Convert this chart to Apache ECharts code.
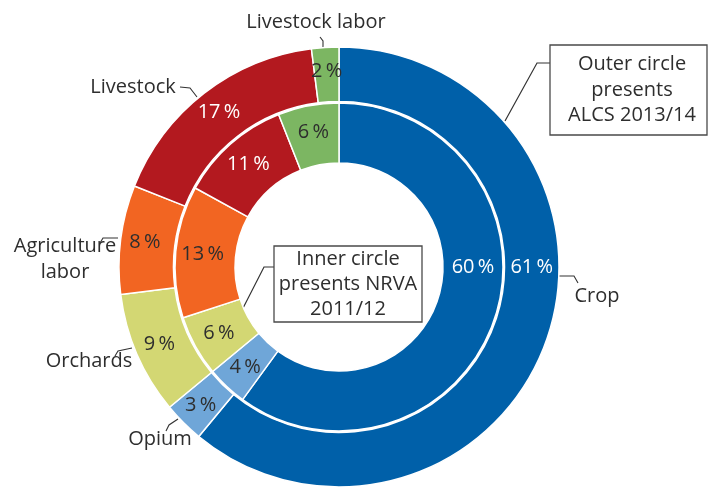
<!DOCTYPE html>
<html>
<head>
<meta charset="utf-8">
<script src="https://cdn.jsdelivr.net/npm/echarts@6/dist/echarts.min.js"></script>
<style>
  html, body { margin: 0; padding: 0; background: #fff; }
  #chart { width: 708px; height: 487px; }
</style>
</head>
<body>
<div id="chart"></div>
<script>
// categories, clockwise from 12 o'clock
var categories = ['Crop', 'Opium', 'Orchards', 'Agriculture\nlabor', 'Livestock', 'Livestock labor'];
// outer ring: ALCS 2013/14
var outerValues = [61, 3, 9, 8, 17, 2];
// inner ring: NRVA 2011/12
var innerValues = [60, 4, 6, 13, 11, 6];

// styles
var colors = ['#0060a9', '#6fa6d8', '#d3d773', '#f26522', '#b3191f', '#7cb662'];
var whiteText = [true, false, false, false, true, false];
var FONT = '"Open Sans", "Noto Sans", sans-serif';
var cx = 339, cy = 267;
var innerR = [104, 164], outerR = [165.5, 220];
// where the category names sit, and their little leader lines
var namePos = [[597, 296], [160, 439], [89, 361], [65, 259], [133, 87], [316, 22]];
var leaders = [
    [[557, 276], [574, 276], [578, 283]],
    [[178, 419], [169, 425], [166, 431]],
    [[132, 348], [118, 351], [115, 356]],
    [[118, 238], [103, 238], [100, 243]],
    [[197, 97], [190, 88], [180, 87]],
    [[323, 47], [323, 41], [320, 37]]
];

function buildData(values) {
    return values.map(function (v, i) {
        return {
            name: categories[i],
            value: v,
            itemStyle: { color: colors[i] },
            label: { color: whiteText[i] ? '#ffffff' : '#2e2e2e' }
        };
    });
}

function pctLayout(r) {
    // crop share is written at 3 o'clock, the rest at mid-slice
    return function (p) {
        if (p.dataIndex === 0) {
            return { x: cx + (r[0] + r[1]) / 2, y: cy, align: 'center', verticalAlign: 'middle' };
        }
        return {};
    };
}

var pctLabel = {
    show: true,
    position: 'inside',
    fontFamily: FONT,
    fontSize: 20,
    formatter: function (p) { return p.value + '\u2009%'; }
};

var myChart = echarts.init(document.getElementById('chart'), null, { renderer: 'canvas' });

var option = {
    animation: false,
    backgroundColor: '#ffffff',
    series: [
        {
            type: 'pie',
            center: [cx, cy],
            radius: innerR,
            startAngle: 90,
            clockwise: true,
            silent: true,
            itemStyle: { borderColor: '#ffffff', borderWidth: 1.5 },
            label: pctLabel,
            labelLine: { show: false },
            labelLayout: pctLayout(innerR),
            data: buildData(innerValues)
        },
        {
            type: 'pie',
            center: [cx, cy],
            radius: outerR,
            startAngle: 90,
            clockwise: true,
            silent: true,
            itemStyle: { borderColor: '#ffffff', borderWidth: 1.5 },
            label: pctLabel,
            labelLine: { show: false },
            labelLayout: pctLayout(outerR),
            data: buildData(outerValues)
        },
        {
            // invisible copy of the outer ring that carries the category names
            type: 'pie',
            center: [cx, cy],
            radius: outerR,
            startAngle: 90,
            clockwise: true,
            silent: true,
            z: 1,
            itemStyle: { color: 'rgba(0,0,0,0)', borderWidth: 0 },
            label: {
                show: true,
                position: 'outside',
                fontFamily: FONT,
                fontSize: 20,
                lineHeight: 26,
                width: 160,
                overflow: 'none',
                color: '#2e2e2e',
                align: 'center',
                formatter: '{b}'
            },
            labelLine: { show: true, length: 6, length2: 6, lineStyle: { color: '#333', width: 1.1 } },
            labelLayout: function (p) {
                var pos = namePos[p.dataIndex];
                return {
                    x: pos[0], y: pos[1], align: 'center', verticalAlign: 'middle',
                    labelLinePoints: leaders[p.dataIndex]
                };
            },
            data: outerValues.map(function (v, i) { return { name: categories[i], value: v }; })
        }
    ],
    graphic: [
        {
            type: 'polyline',
            shape: { points: [[550, 63], [537, 63], [505, 121]] },
            style: { stroke: '#333', lineWidth: 1.2, fill: null }
        },
        {
            type: 'rect',
            shape: { x: 550, y: 45, width: 157, height: 90 },
            style: { fill: '#fff', stroke: '#4a4a4a', lineWidth: 1.3 }
        },
        {
            type: 'text',
            x: 632, y: 90,
            style: {
                text: 'Outer circle\npresents\nALCS 2013/14',
                align: 'center', verticalAlign: 'middle',
                font: '20px ' + FONT, lineHeight: 25.5, fill: '#2e2e2e'
            }
        },
        {
            type: 'polyline',
            shape: { points: [[274, 267], [264, 267], [239, 316]] },
            style: { stroke: '#333', lineWidth: 1.2, fill: null }
        },
        {
            type: 'rect',
            shape: { x: 274, y: 246, width: 148, height: 76 },
            style: { fill: '#fff', stroke: '#4a4a4a', lineWidth: 1.3 }
        },
        {
            type: 'text',
            x: 348, y: 284,
            style: {
                text: 'Inner circle\npresents NRVA\n2011/12',
                align: 'center', verticalAlign: 'middle',
                font: '20px ' + FONT, lineHeight: 25, fill: '#2e2e2e'
            }
        }
    ]
};

myChart.setOption(option);
</script>
</body>
</html>
